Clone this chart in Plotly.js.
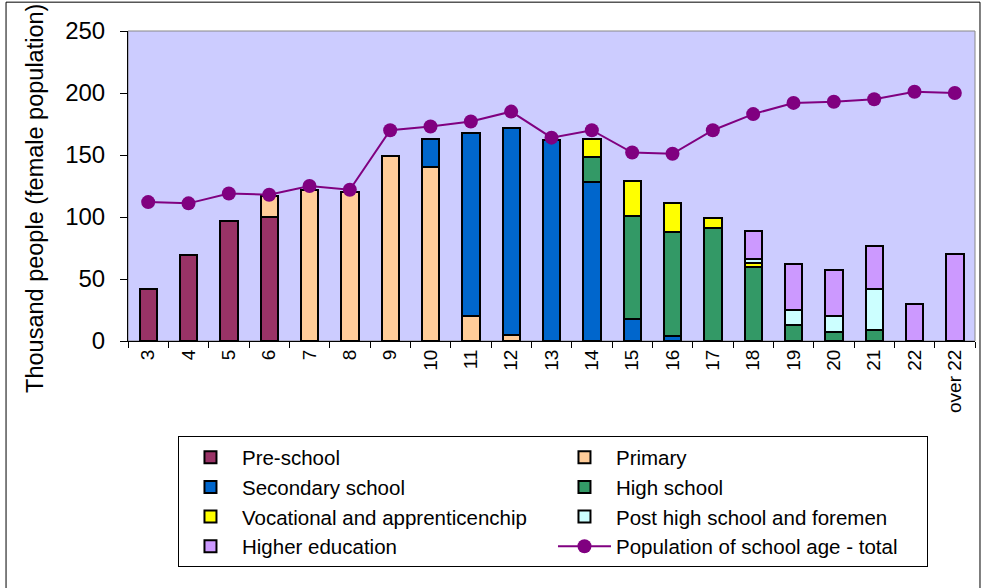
<!DOCTYPE html>
<html>
<head>
<meta charset="utf-8">
<script src="https://cdn.plot.ly/plotly-3.0.1.min.js"></script>
<style>html,body{margin:0;padding:0;background:#fff;}#chart{width:982px;height:588px;}</style>
</head>
<body>
<div id="chart"></div>
<script>
const ages = ['3','4','5','6','7','8','9','10','11','12','13','14','15','16','17','18','19','20','21','22','over 22'];
const preSchool   = [42,69,97,100,null,null,null,null,null,null,null,null,null,null,null,null,null,null,null,null,null];
const primary     = [null,null,null,17,122,120,149,140,20,5,null,null,null,null,null,null,null,null,null,null,null];
const secondary   = [null,null,null,null,null,null,null,23,148,167,162,128,18,4,null,null,null,null,null,null,null];
const highSchool  = [null,null,null,null,null,null,null,null,null,null,null,20,83,84,91,60,13,7,9,null,null];
const vocational  = [null,null,null,null,null,null,null,null,null,null,null,15,28,23,8,3,null,null,null,null,null];
const postHigh    = [null,null,null,null,null,null,null,null,null,null,null,null,null,null,null,3,12,13,33,null,null];
const higherEdu   = [null,null,null,null,null,null,null,null,null,null,null,null,null,null,null,23,37,37,35,30,70];
const totalPop    = [112,111,119,118,125,122,170,173,177,185,164,170,152,151,170,183,192,193,195,201,200];

const seriesNames = ['Pre-school','Primary','Secondary school','High school','Vocational and apprenticenchip','Post high school and foremen','Higher education'];
const seriesColors = ['#993366','#FFCC99','#0066CC','#339966','#FFFF00','#CCFFFF','#CC99FF'];
const seriesData = [preSchool, primary, secondary, highSchool, vocational, postHigh, higherEdu];

const traces = seriesData.map((d, i) => ({
  type: 'bar', x: ages, y: d, name: seriesNames[i],
  marker: {color: seriesColors[i], line: {color: '#000', width: 2}},
  hoverinfo: 'x+y+name'
}));
traces.push({
  type: 'scatter', mode: 'lines+markers', x: ages, y: totalPop,
  name: 'Population of school age - total',
  line: {color: '#800080', width: 2},
  marker: {color: '#800080', size: 14}
});

const FONT = 'Liberation Sans, Arial, sans-serif';
const layout = {
  width: 982, height: 588,
  margin: {l: 128, r: 7, t: 31, b: 247},
  paper_bgcolor: '#ffffff',
  plot_bgcolor: '#CCCCFF',
  barmode: 'stack',
  bargap: 0.57,
  font: {family: FONT, color: '#000'},
  showlegend: true,
  xaxis: {
    type: 'category',
    range: [-0.5, ages.length - 0.5],
    tickangle: -90,
    tickson: 'boundaries',
    ticks: 'outside', ticklen: 6, tickcolor: '#000',
    showline: true, linecolor: '#000', linewidth: 1,
    showgrid: false, zeroline: false,
    tickfont: {family: FONT, size: 19, color: '#000'},
    automargin: false
  },
  yaxis: {
    range: [0, 250], dtick: 50, tick0: 0,
    ticks: 'outside', ticklen: 7, tickcolor: '#000',
    ticklabelstandoff: 10,
    showline: true, linecolor: '#000', linewidth: 1,
    showgrid: false, zeroline: false,
    tickfont: {family: FONT, size: 24, color: '#000'},
    automargin: false
  },
  annotations: [{
    text: 'Thousand people (female population)', xref: 'paper', yref: 'paper',
    x: -0.11, y: 0.461, xanchor: 'center', yanchor: 'middle', textangle: -90,
    showarrow: false, font: {family: FONT, size: 23.5, color: '#000'}
  }],
  legend: {
    orientation: 'h',
    x: 0.059, xanchor: 'left',
    y: -0.308, yanchor: 'top',
    traceorder: 'normal',
    itemwidth: 53,
    entrywidth: 306, entrywidthmode: 'pixels',
    bordercolor: '#000', borderwidth: 1,
    bgcolor: '#ffffff',
    font: {family: FONT, size: 20.5, color: '#000'},
    tracegroupgap: 0
  },
  shapes: [
    {type: 'rect', xref: 'paper', yref: 'paper', x0: 0, x1: 1, y0: 0, y1: 1, line: {color: '#888', width: 1}, layer: 'below'},
    {type: 'rect', xref: 'paper', yref: 'paper', x0: -0.144, x1: 1.0059, y0: -0.84, y1: 1.093, line: {color: '#000', width: 1}}
  ]
};

Plotly.newPlot('chart', traces, layout, {displayModeBar: false, staticPlot: true});
</script>
</body>
</html>
